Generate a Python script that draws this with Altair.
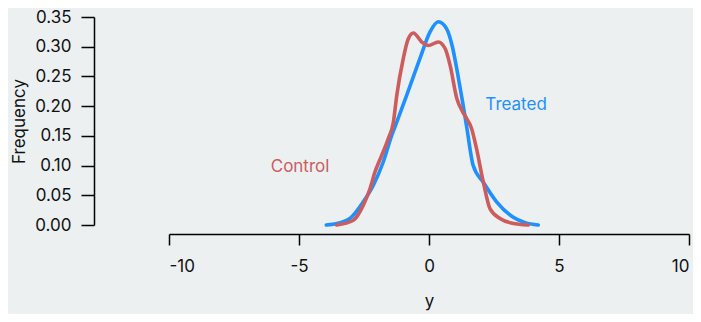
import altair as alt
import pandas as pd

treated_x = [-3.95, -3.5, -3.04, -2.53, -2.14, -1.76, -1.43, -1.24, -0.86, -0.35, 0.04, 0.36, 0.68, 0.9, 1.1, 1.3, 1.45, 1.7, 2.09, 2.6, 3.24, 3.7, 4.2]
treated_y = [0.0, 0.003, 0.011, 0.039, 0.067, 0.106, 0.151, 0.173, 0.218, 0.280, 0.325, 0.342, 0.330, 0.300, 0.255, 0.205, 0.165, 0.100, 0.072, 0.039, 0.013, 0.004, 0.0]

control_x = [-3.55, -2.91, -2.53, -2.27, -2.08, -1.82, -1.57, -1.37, -1.24, -0.99, -0.80, -0.60, -0.28, -0.03, 0.36, 0.62, 0.81, 1.07, 1.30, 1.45, 1.64, 1.83, 2.09, 2.35, 2.73, 3.2, 3.82]
control_y = [0.0, 0.008, 0.033, 0.061, 0.089, 0.117, 0.145, 0.173, 0.218, 0.280, 0.313, 0.323, 0.308, 0.302, 0.308, 0.297, 0.269, 0.213, 0.190, 0.179, 0.162, 0.128, 0.072, 0.027, 0.011, 0.003, 0.0]

groups = ["Treated", "Control"]
colors = ["#1e90ff", "#cd5c5c"]
label_x = [3.35, -4.96]
label_y = [0.202, 0.098]
x_ticks = [-10, -5, 0, 5, 10]
y_ticks = [0, 0.05, 0.1, 0.15, 0.2, 0.25, 0.3, 0.35]

rows = []
for xv, yv in zip(treated_x, treated_y):
    rows.append({"y": xv, "Frequency": yv, "group": "Treated", "order": len(rows)})
for xv, yv in zip(control_x, control_y):
    rows.append({"y": xv, "Frequency": yv, "group": "Control", "order": len(rows)})
df = pd.DataFrame(rows)
labels = pd.DataFrame({"group": groups, "y": label_x, "Frequency": label_y})

FONT = "Inter"
FS = 17
BG = "#ecf0f1"
color_scale = alt.Scale(domain=groups, range=colors)

xscale = alt.Scale(domain=[-10, 10], nice=False, zero=False)
yscale = alt.Scale(domain=[0, 0.35], nice=False, zero=True)

xaxis = alt.Axis(
    values=x_ticks, offset=9, tickSize=11, tickWidth=1.5, domainWidth=1.5,
    labelExpr="datum.value < 0 ? '-' + abs(datum.value) : '' + datum.value",
    labelOverlap=False, domainColor="black", tickColor="black", labelPadding=13, titlePadding=19,
    labelFontSize=FS, titleFontSize=FS, labelColor="#111", titleColor="#111",
    labelFont=FONT, titleFont=FONT, titleFontWeight="normal", grid=False, title="y")
yaxis = alt.Axis(
    values=y_ticks, format=".2f", offset=75, tickSize=13, labelOverlap=False,
    tickWidth=1.5, domainWidth=1.5, domainColor="black", tickColor="black", labelPadding=10,
    titlePadding=6, labelFontSize=FS, titleFontSize=FS, labelColor="#111", titleColor="#111",
    labelFont=FONT, titleFont=FONT, titleFontWeight="normal", grid=False, title="Frequency")

lines = alt.Chart(df).mark_line(strokeWidth=3.6, strokeCap="round", strokeJoin="round", interpolate="monotone").encode(
    x=alt.X("y:Q", scale=xscale, axis=xaxis),
    y=alt.Y("Frequency:Q", scale=yscale, axis=yaxis),
    color=alt.Color("group:N", scale=color_scale, legend=None),
    detail="group:N",
    order="order:Q",
)

texts = alt.Chart(labels).mark_text(font=FONT, fontSize=FS, align="center", baseline="middle").encode(
    x=alt.X("y:Q", scale=xscale, axis=xaxis),
    y=alt.Y("Frequency:Q", scale=yscale, axis=yaxis),
    text="group:N",
    color=alt.Color("group:N", scale=color_scale, legend=None),
)

chart = alt.layer(lines, texts).properties(
    width=520, height=208,
    autosize=alt.AutoSizeParams(type="none"),
    padding={"left": 161, "top": 9, "right": 4, "bottom": 89},
    background=BG,
).configure_view(stroke=None)

chart.save("out.html", embed_options={"renderer": "svg", "actions": False})
